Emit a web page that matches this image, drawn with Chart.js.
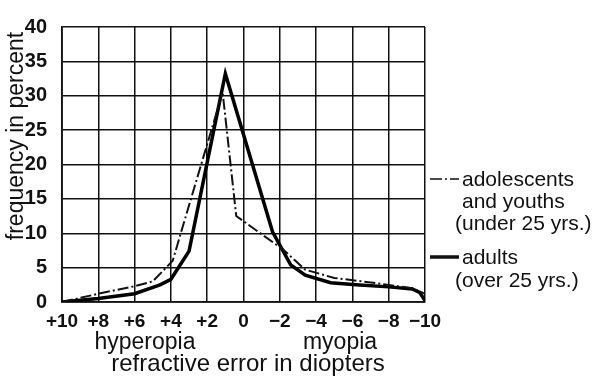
<!DOCTYPE html>
<html>
<head>
<meta charset="utf-8">
<script src="https://cdn.jsdelivr.net/npm/chart.js@4.4.1/dist/chart.umd.min.js"></script>
<style>
  html, body { margin: 0; padding: 0; background: #fff; }
  #wrap { width: 596px; height: 376px; }
</style>
</head>
<body>
<div id="wrap"><canvas id="grafico" width="596" height="376"></canvas></div>
<script>
// refractive error (diopters)
const adultsX = [10, 8, 6, 4.6, 4, 3, 1, -1.6, -2.6, -3.4, -4.8, -6.2, -8, -9.3, -9.7, -10];
const adultsY = [0, 0.5, 1.2, 2.5, 3.3, 7.4, 33.2, 10.2, 5.4, 3.9, 2.8, 2.5, 2.2, 1.9, 1.4, 0.2];

const youthX = [10, 8, 6, 5, 3.9, 3.4, 1.15, 0.4, -2.2, -3.4, -5, -7.7, -9.3, -10];
const youthY = [0, 1.2, 2.3, 3.0, 6.0, 10.5, 30.5, 12.5, 7.6, 4.7, 3.5, 2.6, 2.0, 1.2];

const xTickLabels = ['+10', '+8', '+6', '+4', '+2', '0', '\u22122', '\u22124', '\u22126', '\u22128', '\u221210'];
const yTicks = [0, 5, 10, 15, 20, 25, 30, 35, 40];

const legendYouth = ['adolescents', 'and youths', '(under 25 yrs.)'];
const legendAdults = ['adults', '(over 25 yrs.)'];

const FONT = '"Liberation Sans", Arial, sans-serif';

const toPoints = (xs, ys) => xs.map((x, i) => ({ x: x, y: ys[i] }));

// text around the plot: axis titles, hyperopia / myopia, legend
const extraText = {
    id: 'extraText',
    afterDraw(chart) {
        const ctx = chart.ctx;
        ctx.save();
        ctx.fillStyle = '#111';
        ctx.textBaseline = 'middle';

        ctx.font = '23px ' + FONT;
        ctx.save();
        ctx.translate(17, 136);
        ctx.rotate(-Math.PI / 2);
        ctx.textAlign = 'center';
        ctx.fillText('frequency in percent', 0, 0);
        ctx.restore();

        ctx.textAlign = 'center';
        ctx.fillText('hyperopia', 145, 343);
        ctx.fillText('myopia', 340, 343);
        ctx.font = '24px ' + FONT;
        ctx.fillText('refractive error in diopters', 248, 364);

        // legend
        ctx.strokeStyle = '#111';
        ctx.lineWidth = 1.5;
        ctx.setLineDash([12, 3, 2, 3]);
        ctx.beginPath();
        ctx.moveTo(430, 179);
        ctx.lineTo(459, 179);
        ctx.stroke();
        ctx.setLineDash([]);
        ctx.lineWidth = 3.5;
        ctx.beginPath();
        ctx.moveTo(430, 257);
        ctx.lineTo(459, 257);
        ctx.stroke();

        ctx.font = '21px ' + FONT;
        ctx.textAlign = 'left';
        ctx.fillText(legendYouth[0], 462, 180);
        ctx.fillText(legendYouth[1], 462, 202);
        ctx.fillText(legendYouth[2], 455, 224);
        ctx.fillText(legendAdults[0], 462, 258);
        ctx.fillText(legendAdults[1], 455, 281);
        ctx.restore();
    }
};

new Chart(document.getElementById('grafico').getContext('2d'), {
    type: 'line',
    data: {
        datasets: [
            {
                label: 'adolescents and youths (under 25 yrs.)',
                data: toPoints(youthX, youthY),
                borderColor: '#111',
                borderWidth: 2,
                borderDash: [11, 3, 2, 3],
                pointRadius: 0,
                tension: 0,
                fill: false
            },
            {
                label: 'adults (over 25 yrs.)',
                data: toPoints(adultsX, adultsY),
                borderColor: '#000',
                borderWidth: 3.5,
                pointRadius: 0,
                tension: 0,
                fill: false
            }
        ]
    },
    options: {
        responsive: false,
        animation: false,
        devicePixelRatio: 1,
        layout: { autoPadding: false, padding: { top: 12, right: 171, bottom: 0, left: 0 } },
        plugins: { legend: { display: false }, tooltip: { enabled: false } },
        scales: {
            x: {
                type: 'linear',
                reverse: true,
                min: -10,
                max: 10,
                afterFit: (scale) => { scale.height = 74; },
                afterBuildTicks: (scale) => {
                    scale.ticks = xTickLabels.map((_, i) => ({ value: 10 - i * 2 }));
                },
                ticks: {
                    autoSkip: false,
                    maxRotation: 0,
                    padding: 8,
                    color: '#111',
                    font: { family: FONT, size: 19, weight: 'bold' },
                    callback: (v) => xTickLabels[Math.round((10 - v) / 2)]
                },
                grid: { color: '#111', lineWidth: 1.5, drawTicks: false },
                border: { color: '#111', width: 1.8 }
            },
            y: {
                min: 0,
                max: 40,
                afterFit: (scale) => { scale.width = 62; },
                afterBuildTicks: (scale) => {
                    scale.ticks = yTicks.map((v) => ({ value: v }));
                },
                ticks: {
                    padding: 15,
                    color: '#111',
                    font: { family: FONT, size: 20, weight: 'bold' }
                },
                grid: { color: '#111', lineWidth: 1.5, drawTicks: false },
                border: { color: '#111', width: 1.8 }
            }
        }
    },
    plugins: [extraText]
});
</script>
</body>
</html>
